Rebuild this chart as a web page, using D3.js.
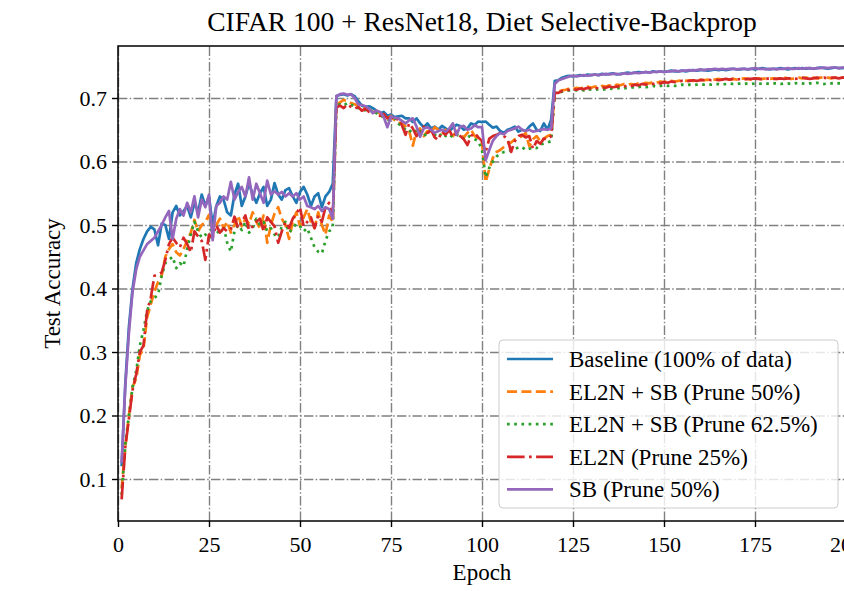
<!DOCTYPE html>
<html>
<head>
<meta charset="utf-8">
<script src="https://cdn.jsdelivr.net/npm/d3@7"></script>
<style>
  body { margin: 0; background: #fff; }
  svg text { font-family: "Liberation Serif", "DejaVu Serif", serif; fill: #000; }
</style>
</head>
<body>
<div id="graph"></div>
<script>
// accuracy per epoch (epochs 1..200)
var baseline = [
  0.120,0.250,0.340,0.400,0.440,0.462,0.478,0.490,0.497,0.493,
  0.468,0.502,0.500,0.478,0.520,0.530,0.515,0.522,0.530,0.512,
  0.535,0.520,0.548,0.530,0.545,0.500,0.530,0.545,0.540,0.520,
  0.515,0.548,0.565,0.530,0.545,0.566,0.548,0.535,0.550,0.560,
  0.530,0.540,0.566,0.548,0.540,0.555,0.558,0.545,0.535,0.552,
  0.560,0.548,0.530,0.545,0.550,0.528,0.545,0.552,0.565,0.703,
  0.705,0.706,0.704,0.706,0.703,0.695,0.688,0.686,0.687,0.684,
  0.680,0.676,0.678,0.672,0.674,0.670,0.671,0.672,0.668,0.668,
  0.662,0.668,0.660,0.654,0.660,0.652,0.655,0.650,0.656,0.652,
  0.648,0.653,0.658,0.656,0.650,0.652,0.660,0.658,0.663,0.662,
  0.663,0.658,0.653,0.655,0.648,0.645,0.650,0.652,0.655,0.647,
  0.650,0.648,0.655,0.660,0.650,0.648,0.660,0.650,0.666,0.727,
  0.728,0.732,0.734,0.735,0.734,0.735,0.736,0.735,0.737,0.736,
  0.737,0.736,0.738,0.737,0.738,0.739,0.737,0.738,0.739,0.740,
  0.739,0.740,0.741,0.740,0.741,0.740,0.742,0.741,0.742,0.741,
  0.742,0.743,0.742,0.742,0.743,0.742,0.743,0.744,0.743,0.744,
  0.744,0.743,0.744,0.745,0.744,0.745,0.744,0.745,0.746,0.745,
  0.745,0.746,0.745,0.746,0.745,0.746,0.747,0.746,0.745,0.746,
  0.746,0.747,0.746,0.745,0.746,0.747,0.746,0.747,0.746,0.747,
  0.746,0.747,0.748,0.747,0.746,0.747,0.748,0.747,0.747,0.748
];

var el2nSb50 = [
  0.085,0.150,0.200,0.245,0.258,0.295,0.305,0.355,0.375,0.395,
  0.410,0.420,0.450,0.462,0.470,0.457,0.452,0.462,0.475,0.488,
  0.508,0.490,0.500,0.505,0.516,0.490,0.500,0.510,0.495,0.505,
  0.488,0.500,0.515,0.498,0.510,0.502,0.520,0.505,0.495,0.515,
  0.472,0.500,0.518,0.528,0.510,0.500,0.478,0.505,0.520,0.498,
  0.512,0.525,0.505,0.495,0.520,0.500,0.485,0.515,0.505,0.690,
  0.693,0.697,0.695,0.692,0.690,0.688,0.685,0.683,0.682,0.678,
  0.680,0.675,0.672,0.668,0.672,0.665,0.660,0.662,0.655,0.648,
  0.625,0.648,0.652,0.640,0.648,0.645,0.654,0.650,0.642,0.650,
  0.645,0.640,0.648,0.642,0.638,0.645,0.650,0.640,0.636,0.630,
  0.568,0.588,0.606,0.615,0.618,0.623,0.628,0.630,0.635,0.637,
  0.640,0.645,0.624,0.635,0.640,0.632,0.636,0.640,0.642,0.710,
  0.710,0.712,0.713,0.715,0.714,0.716,0.715,0.717,0.718,0.716,
  0.718,0.717,0.719,0.718,0.720,0.719,0.721,0.720,0.722,0.721,
  0.722,0.721,0.723,0.722,0.724,0.723,0.725,0.724,0.726,0.725,
  0.726,0.727,0.726,0.727,0.728,0.727,0.728,0.727,0.728,0.729,
  0.728,0.729,0.728,0.729,0.730,0.729,0.730,0.729,0.730,0.729,
  0.730,0.731,0.730,0.729,0.730,0.731,0.730,0.731,0.730,0.731,
  0.730,0.731,0.732,0.731,0.730,0.731,0.732,0.731,0.732,0.731,
  0.732,0.731,0.732,0.733,0.732,0.731,0.732,0.733,0.732,0.733
];

var el2nSb625 = [
  0.075,0.155,0.200,0.245,0.270,0.310,0.335,0.365,0.380,0.385,
  0.390,0.420,0.440,0.445,0.450,0.432,0.440,0.435,0.462,0.485,
  0.505,0.490,0.480,0.485,0.478,0.500,0.492,0.485,0.498,0.472,
  0.458,0.490,0.500,0.492,0.505,0.488,0.495,0.510,0.500,0.505,
  0.490,0.495,0.485,0.480,0.498,0.505,0.488,0.495,0.502,0.498,
  0.490,0.495,0.480,0.465,0.458,0.455,0.475,0.490,0.495,0.688,
  0.690,0.688,0.692,0.690,0.686,0.684,0.685,0.680,0.678,0.682,
  0.676,0.672,0.670,0.666,0.664,0.668,0.660,0.655,0.650,0.646,
  0.652,0.645,0.648,0.640,0.645,0.650,0.642,0.638,0.645,0.640,
  0.643,0.638,0.642,0.640,0.636,0.641,0.638,0.635,0.632,0.618,
  0.575,0.590,0.600,0.608,0.612,0.615,0.616,0.618,0.620,0.622,
  0.623,0.618,0.620,0.622,0.621,0.627,0.628,0.630,0.632,0.708,
  0.708,0.710,0.711,0.712,0.713,0.712,0.713,0.712,0.714,0.713,
  0.713,0.714,0.713,0.714,0.715,0.714,0.715,0.716,0.715,0.716,
  0.717,0.716,0.717,0.718,0.717,0.718,0.719,0.718,0.719,0.720,
  0.719,0.720,0.719,0.720,0.721,0.720,0.721,0.720,0.721,0.722,
  0.721,0.722,0.721,0.722,0.722,0.721,0.722,0.723,0.722,0.722,
  0.723,0.722,0.723,0.722,0.723,0.723,0.722,0.723,0.722,0.723,
  0.723,0.722,0.723,0.723,0.722,0.723,0.724,0.723,0.722,0.723,
  0.723,0.724,0.723,0.722,0.723,0.723,0.724,0.723,0.723,0.723
];

var el2n25 = [
  0.068,0.150,0.195,0.240,0.265,0.300,0.310,0.365,0.385,0.420,
  0.422,0.425,0.445,0.470,0.480,0.472,0.465,0.480,0.470,0.457,
  0.490,0.482,0.475,0.445,0.485,0.480,0.500,0.488,0.495,0.490,
  0.493,0.513,0.495,0.505,0.515,0.492,0.498,0.505,0.510,0.490,
  0.512,0.505,0.498,0.472,0.490,0.505,0.495,0.510,0.518,0.528,
  0.498,0.505,0.512,0.495,0.515,0.505,0.528,0.535,0.510,0.685,
  0.688,0.684,0.690,0.686,0.683,0.686,0.680,0.683,0.678,0.680,
  0.676,0.672,0.675,0.668,0.670,0.664,0.668,0.657,0.642,0.660,
  0.652,0.640,0.648,0.655,0.645,0.650,0.638,0.634,0.648,0.642,
  0.650,0.638,0.645,0.640,0.635,0.626,0.640,0.645,0.638,0.632,
  0.615,0.636,0.640,0.642,0.645,0.640,0.636,0.615,0.632,0.640,
  0.642,0.638,0.640,0.620,0.632,0.628,0.636,0.635,0.640,0.708,
  0.708,0.711,0.712,0.713,0.714,0.713,0.715,0.714,0.716,0.715,
  0.716,0.715,0.717,0.716,0.718,0.717,0.718,0.719,0.718,0.720,
  0.719,0.721,0.720,0.722,0.721,0.723,0.722,0.724,0.723,0.725,
  0.724,0.726,0.725,0.726,0.727,0.726,0.727,0.728,0.727,0.728,
  0.728,0.729,0.728,0.729,0.728,0.729,0.730,0.729,0.730,0.729,
  0.730,0.729,0.730,0.730,0.731,0.730,0.729,0.730,0.731,0.730,
  0.730,0.731,0.730,0.731,0.731,0.730,0.731,0.732,0.731,0.730,
  0.731,0.732,0.731,0.732,0.731,0.732,0.732,0.731,0.732,0.732
];

var sb50 = [
  0.125,0.245,0.330,0.395,0.430,0.450,0.460,0.470,0.475,0.480,
  0.490,0.500,0.512,0.522,0.478,0.510,0.525,0.515,0.535,0.520,
  0.545,0.512,0.540,0.528,0.548,0.476,0.530,0.535,0.545,0.540,
  0.568,0.540,0.552,0.560,0.545,0.575,0.540,0.565,0.550,0.535,
  0.570,0.548,0.553,0.548,0.552,0.545,0.550,0.545,0.550,0.540,
  0.545,0.530,0.528,0.525,0.530,0.522,0.528,0.525,0.510,0.703,
  0.706,0.707,0.705,0.706,0.700,0.690,0.689,0.687,0.683,0.676,
  0.680,0.678,0.670,0.654,0.671,0.669,0.668,0.664,0.660,0.665,
  0.668,0.655,0.639,0.652,0.654,0.650,0.645,0.648,0.650,0.647,
  0.652,0.660,0.642,0.655,0.656,0.650,0.652,0.657,0.654,0.654,
  0.602,0.618,0.633,0.640,0.645,0.643,0.648,0.650,0.652,0.655,
  0.650,0.648,0.650,0.647,0.648,0.650,0.651,0.650,0.652,0.722,
  0.728,0.730,0.732,0.734,0.735,0.734,0.735,0.736,0.735,0.736,
  0.737,0.736,0.737,0.738,0.737,0.738,0.738,0.737,0.739,0.738,
  0.739,0.740,0.739,0.740,0.741,0.740,0.741,0.741,0.742,0.741,
  0.742,0.742,0.743,0.742,0.743,0.743,0.744,0.743,0.744,0.745,
  0.744,0.745,0.745,0.746,0.745,0.746,0.745,0.746,0.746,0.745,
  0.746,0.746,0.745,0.746,0.747,0.746,0.746,0.745,0.746,0.746,
  0.745,0.746,0.746,0.747,0.746,0.746,0.747,0.746,0.747,0.747,
  0.746,0.747,0.747,0.748,0.747,0.748,0.748,0.747,0.748,0.748
];

var seriesLabels = [
  "Baseline (100% of data)",
  "EL2N + SB (Prune 50%)",
  "EL2N + SB (Prune 62.5%)",
  "EL2N (Prune 25%)",
  "SB (Prune 50%)"
];
var xTicks = [0, 25, 50, 75, 100, 125, 150, 175, 200];
var yTicks = [0.1, 0.2, 0.3, 0.4, 0.5, 0.6, 0.7];

var series = [
  { label: seriesLabels[0], values: baseline,  color: "#1f77b4", dash: null },
  { label: seriesLabels[1], values: el2nSb50,  color: "#ff7f0e", dash: "10,4.4" },
  { label: seriesLabels[2], values: el2nSb625, color: "#2ca02c", dash: "2.7,4.5" },
  { label: seriesLabels[3], values: el2n25,    color: "#d62728", dash: "17.6,4.4,2.7,4.4" },
  { label: seriesLabels[4], values: sb50,      color: "#9467bd", dash: null }
];

var width = 844, height = 591;
var plotL = 118, plotR = 846, plotT = 46, plotB = 521;

var svg = d3.select("#graph").append("svg")
  .attr("width", width)
  .attr("height", height)

var xScale = d3.scaleLinear()
  .domain([0, 200])
  .range([plotL, plotR]);

var yScale = d3.scaleLinear()
  .domain([0.03386, 0.78189])
  .range([plotB, plotT]);

// grid
var gridX = svg.append("g")
  .attr("transform", "translate(0," + plotB + ")")
  .call(d3.axisBottom(xScale).tickValues(xTicks).tickSize(-(plotB - plotT)).tickFormat(""))
gridX.select(".domain").remove()

var gridY = svg.append("g")
  .attr("transform", "translate(" + plotL + ",0)")
  .call(d3.axisLeft(yScale).tickValues(yTicks).tickSize(-(plotR - plotL)).tickFormat(""))
gridY.select(".domain").remove()

svg.selectAll(".tick line")
  .attr("stroke", "#808080")
  .attr("stroke-width", 1.4)
  .attr("stroke-dasharray", "9.4,2.3,1.5,2.3")

// lines
var line = d3.line()
  .x(function(d, i) { return xScale(i + 1); })
  .y(function(d) { return yScale(d); })

series.forEach(function(s) {
  svg.append("path")
    .datum(s.values)
    .attr("fill", "none")
    .attr("stroke", s.color)
    .attr("stroke-width", 2.7)
    .attr("stroke-linejoin", "round")
    .attr("stroke-dasharray", s.dash)
    .attr("d", line)
})

// frame
svg.append("rect")
  .attr("x", plotL).attr("y", plotT)
  .attr("width", plotR - plotL).attr("height", plotB - plotT)
  .attr("fill", "none")
  .attr("stroke", "#000")
  .attr("stroke-width", 1.5)

// axes
var xAxis = svg.append("g")
  .attr("transform", "translate(0," + plotB + ")")
  .call(d3.axisBottom(xScale).tickValues(xTicks).tickSize(6).tickPadding(9).tickFormat(d3.format("d")))
var yAxis = svg.append("g")
  .attr("transform", "translate(" + plotL + ",0)")
  .call(d3.axisLeft(yScale).tickValues(yTicks).tickSize(6).tickPadding(5).tickFormat(d3.format(".1f")))

;[xAxis, yAxis].forEach(function(ax) {
  ax.select(".domain").remove()
  ax.selectAll(".tick line").attr("stroke", "#000").attr("stroke-width", 1.4)
  ax.selectAll(".tick text")
    .attr("font-family", "Liberation Serif")
    .attr("font-size", 22)
    .attr("fill", "#000")
})

svg.append("text")
  .attr("x", (plotL + plotR) / 2)
  .attr("y", 31)
  .attr("text-anchor", "middle")
  .attr("font-size", 27.5)
  .text("CIFAR 100 + ResNet18, Diet Selective-Backprop")

svg.append("text")
  .attr("x", (plotL + plotR) / 2)
  .attr("y", 580)
  .attr("text-anchor", "middle")
  .attr("font-size", 23)
  .text("Epoch")

svg.append("text")
  .attr("transform", "translate(60," + ((plotT + plotB) / 2) + ") rotate(-90)")
  .attr("text-anchor", "middle")
  .attr("font-size", 23)
  .text("Test Accuracy")

// legend
var lg = svg.append("g")
lg.append("rect")
  .attr("x", 499).attr("y", 340)
  .attr("width", 339).attr("height", 168)
  .attr("rx", 4)
  .attr("fill", "#fff")
  .attr("fill-opacity", 0.8)
  .attr("stroke", "#cccccc")
  .attr("stroke-width", 1)

series.forEach(function(s, i) {
  var y = 359 + i * 32.6
  lg.append("line")
    .attr("x1", 507).attr("x2", 553)
    .attr("y1", y).attr("y2", y)
    .attr("stroke", s.color)
    .attr("stroke-width", 2.7)
    .attr("stroke-dasharray", s.dash)
  lg.append("text")
    .attr("x", 569)
    .attr("y", y)
    .attr("dy", "0.35em")
    .attr("font-size", 23)
    .text(s.label)
})
</script>
</body>
</html>
